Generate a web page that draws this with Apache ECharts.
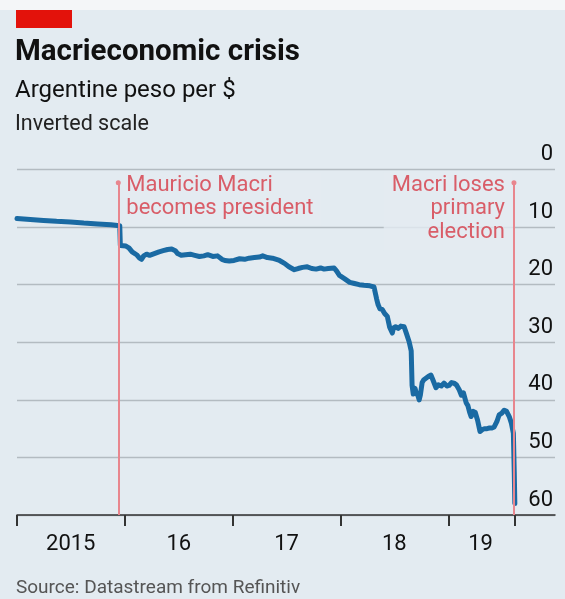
<!DOCTYPE html>
<html><head><meta charset="utf-8">
<script src="https://cdn.jsdelivr.net/npm/echarts@6/dist/echarts.min.js"></script>
<style>html,body{margin:0;padding:0;background:#e3ebf1}#c{width:565px;height:599px}</style>
</head><body><div id="c"></div>
<script>
const dates = [
'2015-01-01','2015-02-15','2015-04-01','2015-05-15','2015-07-01','2015-08-15','2015-10-01','2015-11-15','2015-12-15',
'2015-12-17','2015-12-22','2016-01-05','2016-01-15','2016-01-26','2016-02-10','2016-02-20','2016-02-27','2016-03-05',
'2016-03-15','2016-03-25','2016-04-10','2016-04-26','2016-05-10','2016-05-25','2016-06-08','2016-06-20','2016-06-28',
'2016-07-10','2016-07-25','2016-08-10','2016-08-25','2016-09-10','2016-09-25','2016-10-08','2016-10-25','2016-11-10',
'2016-11-25','2016-12-05','2016-12-20','2017-01-05','2017-01-24','2017-02-10','2017-02-25','2017-03-15','2017-04-01',
'2017-04-12','2017-04-28','2017-05-15','2017-06-08','2017-06-25','2017-07-10','2017-07-28','2017-08-10','2017-08-25',
'2017-09-10','2017-09-25','2017-10-10','2017-10-25','2017-11-06','2017-11-20','2017-12-10','2017-12-18','2017-12-28',
'2018-01-15','2018-02-01','2018-02-17','2018-03-05','2018-03-21','2018-04-10','2018-04-24','2018-05-03','2018-05-08',
'2018-05-14','2018-05-22','2018-05-30','2018-06-08','2018-06-16','2018-06-25','2018-06-29','2018-07-06','2018-07-15',
'2018-07-24','2018-08-04','2018-08-12','2018-08-21','2018-08-28','2018-08-31','2018-09-04','2018-09-10','2018-09-14',
'2018-09-20','2018-09-24','2018-09-28','2018-10-04','2018-10-10','2018-10-18','2018-10-26','2018-11-03','2018-11-10',
'2018-11-20','2018-11-28','2018-12-08','2018-12-17','2018-12-27','2019-01-03','2019-01-12','2019-01-20','2019-01-28',
'2019-02-07','2019-02-14','2019-02-21','2019-03-02','2019-03-08','2019-03-14','2019-03-19','2019-03-26','2019-04-02',
'2019-04-10','2019-04-18','2019-04-25','2019-05-03','2019-05-12','2019-05-20','2019-05-28','2019-06-05','2019-06-14',
'2019-06-22','2019-07-01','2019-07-09','2019-07-17','2019-07-26','2019-08-02','2019-08-09','2019-08-12','2019-08-14'
];
const pesoPerDollar = [
8.5,8.7,8.85,9.0,9.1,9.3,9.45,9.6,9.75,
13.2,13.1,13.3,13.6,14.3,14.8,15.4,15.6,15.0,
14.7,14.9,14.6,14.3,14.1,13.9,13.8,14.1,14.6,
14.9,14.8,14.7,14.9,15.1,15.0,14.8,15.1,15.0,
15.6,15.8,15.9,15.8,15.5,15.6,15.4,15.3,15.2,
15.0,15.3,15.4,15.8,16.3,16.9,17.4,17.2,17.0,
16.9,17.2,17.3,17.1,17.3,17.2,17.1,17.6,18.4,
19.0,19.6,19.8,20.0,20.1,20.2,20.4,22.5,23.5,
24.2,24.3,25.0,25.5,27.4,28.4,27.5,27.3,27.6,
27.2,27.3,28.5,29.9,31.5,37.5,39.0,38.0,38.8,
39.3,40.0,39.2,37.0,36.5,36.2,35.9,35.7,36.6,
37.9,37.4,37.6,37.1,37.6,37.5,37.0,37.1,37.4,
38.3,39.2,38.8,40.5,41.0,42.2,42.9,42.0,42.2,
43.6,45.5,45.2,45.0,45.0,44.9,44.9,44.7,43.8,
42.6,42.3,41.8,42.0,42.9,44.0,45.8,52.5,58.0
];
const yTicks = [0, 10, 20, 30, 40, 50, 60];
const xTickDates = ['2015-01-01','2016-01-01','2017-01-01','2018-01-01','2019-01-01','2019-08-14'];
const xLabelDates = ['2015-07-02','2016-07-02','2017-07-02','2018-07-02','2019-04-20'];
const xLabels = ['2015','16','17','18','19'];
const xRange = ['2015-01-01','2019-12-28'];
const eventDates = ['2015-12-10','2019-08-11'];
const eventLabels = ['Mauricio Macri\nbecomes president','Macri loses\nprimary\nelection'];
const eventTop = 2.3;

const ts = s => new Date(s + 'T00:00:00Z').getTime();
const FONT = 'Roboto, "Noto Sans", sans-serif';
const BG = '#e3ebf1';
const RED_TEXT = '#d63a46';
const labelTs = xLabelDates.map(ts);

const chart = echarts.init(document.getElementById('c'), null, {renderer: 'canvas'});
chart.setOption({
  backgroundColor: BG,
  animation: false,
  textStyle: {fontFamily: FONT},
  grid: {left: 17, right: 10, top: 169.5, bottom: 84, containLabel: false},
  xAxis: {
    type: 'value', scale: true, position: 'bottom',
    min: ts(xRange[0]), max: ts(xRange[1]),
    axisLine: {show: true, onZero: false, lineStyle: {color: '#333', width: 1.5}},
    axisTick: {show: true, customValues: xTickDates.map(ts), length: 11, lineStyle: {color: '#333', width: 2}},
    axisLabel: {
      customValues: labelTs, fontSize: 22, color: '#111', margin: 18, fontFamily: FONT,
      formatter: v => { const i = labelTs.findIndex(t => Math.abs(t - v) < 86400000); return i >= 0 ? xLabels[i] : ''; }
    },
    splitLine: {show: false}
  },
  yAxis: {
    type: 'value', inverse: true, position: 'right',
    min: yTicks[0], max: yTicks[yTicks.length - 1], interval: 10,
    axisLine: {show: false}, axisTick: {show: false},
    axisLabel: {inside: true, fontSize: 22, color: '#111', margin: 2, verticalAlign: 'bottom', padding: [0, 0, 4, 0], fontFamily: FONT},
    splitLine: {show: true, lineStyle: {color: '#b3bbc1', width: 1.3}}
  },
  series: [
    {
      type: 'scatter', z: 1, silent: true, symbolSize: 0,
      data: eventDates.map((d, i) => ({
        value: [ts(d), eventTop],
        label: i === 0 ? {
          show: true, formatter: eventLabels[i], position: [4, -10], align: 'left', verticalAlign: 'top',
          fontSize: 22, lineHeight: 23, color: RED_TEXT, backgroundColor: BG, padding: [1, 8, 6, 4], fontFamily: FONT
        } : {
          show: true, formatter: eventLabels[i], position: [-1, -10], align: 'right', verticalAlign: 'top',
          fontSize: 22, lineHeight: 23.5, color: RED_TEXT, backgroundColor: BG, padding: [1, 8, 6, 8], fontFamily: FONT
        }
      }))
    },
    {
      type: 'line', z: 3, showSymbol: false, smooth: false,
      data: dates.map((d, i) => [ts(d), pesoPerDollar[i]]),
      lineStyle: {color: '#1a6aa3', width: 5, join: 'round', cap: 'round'},
      markLine: {
        silent: true, symbol: ['circle', 'none'], symbolSize: 5,
        lineStyle: {color: '#e8868e', width: 2, type: 'solid'},
        label: {show: false},
        data: eventDates.map(d => [{coord: [ts(d), eventTop]}, {coord: [ts(d), yTicks[yTicks.length - 1]]}])
      }
    }
  ],
  graphic: [
    {type: 'rect', shape: {x: 0, y: 0, width: 565, height: 10}, style: {fill: '#f4f6f8'}},
    {type: 'rect', shape: {x: 16, y: 10, width: 56, height: 18}, style: {fill: '#e3120b'}},
    {type: 'text', x: 15, y: 53, style: {text: 'Macrieconomic crisis', font: 'bold 29.5px ' + FONT, fill: '#111', verticalAlign: 'middle'}},
    {type: 'text', x: 15, y: 91, style: {text: 'Argentine peso per $', font: '24px ' + FONT, fill: '#111', verticalAlign: 'middle'}},
    {type: 'text', x: 15, y: 125, style: {text: 'Inverted scale', font: '21.5px ' + FONT, fill: '#222', verticalAlign: 'middle'}},
    {type: 'text', x: 16, y: 588, style: {text: 'Source: Datastream from Refinitiv', font: '19px ' + FONT, fill: '#555', verticalAlign: 'middle'}}
  ]
});
</script></body></html>
